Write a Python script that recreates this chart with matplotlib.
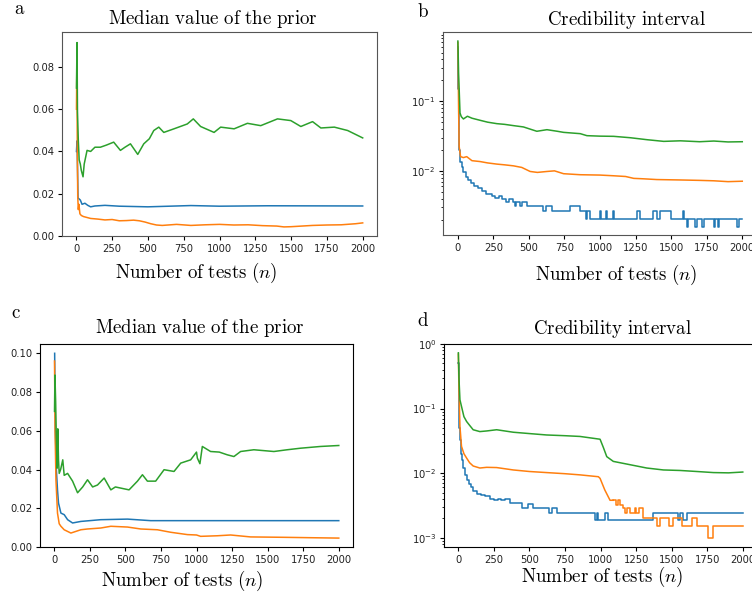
import numpy as np
import matplotlib
matplotlib.use('Agg')
import matplotlib.pyplot as plt

plt.rcParams['mathtext.fontset'] = 'cm'
plt.rcParams['font.size'] = 7.2
plt.rcParams['xtick.major.size'] = 3
plt.rcParams['ytick.major.size'] = 3
plt.rcParams['ytick.minor.size'] = 1.8
plt.rcParams['axes.linewidth'] = 0.8

# panel a - median value of the prior
a_blue_x = [1, 5, 9, 12, 20, 28, 40, 60, 80, 100, 130, 200, 300, 500, 700, 800, 1000, 1335, 2000]
a_blue_y = [0.040, 0.045, 0.030, 0.018, 0.0175, 0.0170, 0.0150, 0.0155, 0.0145, 0.0138, 0.0142,
            0.0145, 0.0141, 0.0138, 0.0142, 0.0144, 0.0141, 0.0143, 0.0142]
a_orange_x = [1, 4, 7, 10, 14, 18, 25, 35, 50, 100, 150, 200, 250, 300, 350, 400, 440, 480, 520,
              560, 600, 700, 800, 900, 1000, 1100, 1200, 1300, 1400, 1450, 1500, 1550, 1650, 1750,
              1850, 1950, 2000]
a_orange_y = [0.060, 0.083, 0.040, 0.0185, 0.0125, 0.0150, 0.0105, 0.0097, 0.0092, 0.0083, 0.0080,
              0.0076, 0.0078, 0.0072, 0.0073, 0.0075, 0.0072, 0.0066, 0.0058, 0.0052, 0.0050, 0.0055,
              0.0050, 0.0053, 0.0055, 0.0052, 0.0053, 0.0049, 0.0047, 0.0043, 0.0044, 0.0046, 0.0050,
              0.0052, 0.0053, 0.0058, 0.0062]
a_green_x = [1, 5, 8, 14, 20, 28, 35, 47, 55, 75, 100, 130, 168, 210, 261, 308, 340, 378, 429, 471,
             510, 541, 576, 611, 682, 775, 817, 868, 962, 1008, 1102, 1195, 1288, 1405, 1498, 1568,
             1650, 1708, 1802, 1895, 2000]
a_green_y = [0.070, 0.0915, 0.059, 0.045, 0.036, 0.034, 0.031, 0.028, 0.034, 0.0405, 0.040, 0.042,
             0.042, 0.043, 0.0444, 0.0405, 0.042, 0.0436, 0.0386, 0.0436, 0.046, 0.0499, 0.0515,
             0.049, 0.0507, 0.053, 0.0554, 0.0518, 0.049, 0.0515, 0.0507, 0.0533, 0.0522, 0.0554,
             0.0546, 0.0518, 0.0541, 0.0511, 0.0515, 0.0499, 0.0464]

# panel b - credibility interval (log)
b_blue_x = [0, 3, 6, 10, 18, 28, 40, 55, 70, 90, 115, 140, 170, 200, 240, 260, 290, 310, 340, 360,
            385, 400, 410, 440, 450, 485, 600, 620, 660, 790, 860, 900, 910, 930, 1000, 1010, 1040,
            1050, 1090, 1100, 1260, 1280, 1370, 1400, 1420, 1500, 1580, 1590, 1608, 1620, 1671,
            1680, 1718, 1728, 1800, 1810, 1828, 1838, 1964, 1974, 2000]
b_blue_y = [0.6, 0.15, 0.05, 0.02, 0.0135, 0.0112, 0.0095, 0.0082, 0.0075, 0.0066, 0.006, 0.0056,
            0.0051, 0.0047, 0.0044, 0.0041, 0.0044, 0.0039, 0.0036, 0.0039, 0.0036, 0.0031, 0.0036,
            0.0031, 0.0036, 0.0031, 0.00265, 0.0031, 0.00265, 0.0031, 0.00265, 0.00207, 0.00265,
            0.00207, 0.00265, 0.00207, 0.00265, 0.00207, 0.00265, 0.00207, 0.00265, 0.00207,
            0.00265, 0.00207, 0.00265, 0.00207, 0.00265, 0.00207, 0.00157, 0.00207, 0.00157,
            0.00207, 0.00157, 0.00207, 0.00157, 0.00207, 0.00157, 0.00207, 0.00157, 0.00207, 0.00207]
b_orange_x = [1, 3, 6, 10, 20, 40, 63, 100, 157, 210, 275, 330, 392, 450, 509, 560, 627, 680, 744,
              861, 1000, 1096, 1180, 1237, 1300, 1400, 1565, 1700, 1800, 1900, 2000]
b_orange_y = [0.70, 0.35, 0.08, 0.0224, 0.016, 0.0155, 0.016, 0.014, 0.0136, 0.013, 0.0125, 0.0122,
              0.0118, 0.0112, 0.0098, 0.0095, 0.0098, 0.0100, 0.0091, 0.0088, 0.0087, 0.0085,
              0.0083, 0.0078, 0.0077, 0.0075, 0.0074, 0.0073, 0.0072, 0.0070, 0.0071]
b_green_x = [1, 3, 6, 10, 16, 25, 40, 68, 100, 157, 210, 275, 330, 392, 462, 556, 627, 700, 744,
             861, 908, 1000, 1096, 1213, 1331, 1448, 1565, 1700, 1800, 1900, 2000]
b_green_y = [0.73, 0.50, 0.25, 0.15, 0.068, 0.060, 0.0556, 0.0608, 0.057, 0.0532, 0.050, 0.0476,
             0.0465, 0.0446, 0.0427, 0.037, 0.039, 0.037, 0.0357, 0.0342, 0.032, 0.0315, 0.0313,
             0.0299, 0.028, 0.0265, 0.027, 0.0262, 0.0268, 0.026, 0.0262]

# panel c - median value of the prior
c_blue_x = [3, 8, 15, 23, 30, 47, 70, 94, 129, 187, 327, 515, 678, 1000, 2000]
c_blue_y = [0.100, 0.060, 0.040, 0.0295, 0.0227, 0.0175, 0.0167, 0.0141, 0.0124, 0.0132, 0.0141,
            0.0144, 0.0136, 0.0136, 0.0136]
c_orange_x = [2, 6, 12, 23, 35, 47, 70, 117, 187, 234, 327, 398, 515, 608, 725, 819, 936, 1000,
              1029, 1146, 1240, 1380, 1614, 1800, 2000]
c_orange_y = [0.096, 0.060, 0.0347, 0.0175, 0.0120, 0.0107, 0.0089, 0.0072, 0.0089, 0.0093, 0.0098,
              0.0107, 0.0103, 0.0093, 0.0089, 0.0076, 0.0064, 0.0062, 0.0055, 0.0058, 0.0062,
              0.0052, 0.0050, 0.0048, 0.0046]
c_green_x = [2, 5, 10, 15, 20, 25, 30, 35, 45, 60, 70, 94, 129, 164, 200, 234, 270, 304, 351, 398,
             430, 468, 526, 585, 620, 655, 713, 772, 842, 889, 959, 1000, 1006, 1024, 1041, 1099,
             1160, 1216, 1263, 1310, 1403, 1544, 1637, 1731, 1871, 2000]
c_green_y = [0.07, 0.0888, 0.075, 0.055, 0.0407, 0.061, 0.045, 0.038, 0.040, 0.045, 0.037, 0.038,
             0.034, 0.028, 0.031, 0.0347, 0.031, 0.032, 0.0356, 0.0295, 0.031, 0.0304, 0.0295,
             0.034, 0.0373, 0.034, 0.034, 0.0399, 0.039, 0.0433, 0.045, 0.049, 0.0459, 0.043,
             0.0519, 0.0493, 0.049, 0.0476, 0.0467, 0.0493, 0.0502, 0.0493, 0.0502, 0.051, 0.0519,
             0.0524]

# panel d - credibility interval (log)
d_blue_x = [0, 3, 6, 10, 18, 25, 35, 45, 59, 75, 90, 105, 130, 160, 190, 225, 250, 280, 300, 330,
            363, 446, 492, 528, 640, 660, 692, 960, 975, 985, 1032, 1055, 1372, 1548, 1560, 1580,
            1606, 2000]
d_blue_y = [0.5, 0.12, 0.05, 0.033, 0.02, 0.016, 0.012, 0.0095, 0.0078, 0.0068, 0.006, 0.0052,
            0.0048, 0.0046, 0.0044, 0.0040, 0.0038, 0.0040, 0.0038, 0.0040, 0.0035, 0.0029, 0.0033,
            0.0029, 0.0024, 0.0029, 0.0024, 0.0019, 0.0024, 0.0019, 0.0024, 0.0019, 0.0024, 0.0019,
            0.0024, 0.0019, 0.0024, 0.0024]
d_orange_x = [1, 5, 12, 23, 40, 59, 80, 105, 152, 200, 270, 387, 500, 621, 750, 856, 985, 997,
              1030, 1067, 1090]
d_orange_y = [0.70, 0.20, 0.053, 0.026, 0.020, 0.0171, 0.0145, 0.0129, 0.0120, 0.0123, 0.0122,
              0.0112, 0.0106, 0.0102, 0.0098, 0.0094, 0.0088, 0.0083, 0.0055, 0.0038, 0.0038]
d_orange_step_x = [1090, 1110, 1120, 1140, 1160, 1175, 1185, 1205, 1240, 1250, 1270, 1300, 1395,
                   1419, 1484, 1512, 1571, 1641, 1677, 1759, 1794, 2000]
d_orange_step_y = [0.0038, 0.0032, 0.0038, 0.0032, 0.0029, 0.0024, 0.0029, 0.0024, 0.0029, 0.0024,
                   0.0029, 0.002, 0.0015, 0.002, 0.0015, 0.002, 0.0015, 0.002, 0.0015, 0.001,
                   0.0015, 0.0015]
d_green_x = [1, 5, 12, 23, 40, 59, 80, 105, 152, 200, 270, 387, 500, 621, 750, 856, 997, 1020, 1044,
             1090, 1208, 1325, 1442, 1559, 1677, 1794, 1900, 2000]
d_green_y = [0.73, 0.30, 0.137, 0.108, 0.075, 0.063, 0.055, 0.047, 0.044, 0.045, 0.047, 0.043,
             0.041, 0.039, 0.038, 0.037, 0.0335, 0.025, 0.018, 0.0152, 0.0135, 0.012, 0.0112,
             0.011, 0.0106, 0.0102, 0.0101, 0.0104]

W, H = 752, 602
fig = plt.figure(figsize=(W / 100, H / 100), dpi=100)


def box(l, t, w, h):
    return [l / W, 1 - (t + h) / H, w / W, h / H]


ax_a = fig.add_axes(box(62, 32, 315, 204))
ax_b = fig.add_axes(box(443.5, 32, 313, 203))
ax_c = fig.add_axes(box(40, 344, 313, 203))
ax_d = fig.add_axes(box(444, 344, 313, 203))

lw = 1.1
ax_a.plot(a_blue_x, a_blue_y, color='C0', lw=lw)
ax_a.plot(a_orange_x, a_orange_y, color='C1', lw=lw)
ax_a.plot(a_green_x, a_green_y, color='C2', lw=lw)
ax_a.set_ylim(0, 0.0965)
ax_a.set_yticks([0, 0.02, 0.04, 0.06, 0.08])

ax_b.plot(b_blue_x, b_blue_y, color='C0', lw=lw, drawstyle='steps-post')
ax_b.plot(b_orange_x, b_orange_y, color='C1', lw=lw)
ax_b.plot(b_green_x, b_green_y, color='C2', lw=lw)
ax_b.set_yscale('log')
ax_b.set_ylim(0.0012, 0.985)

ax_c.plot(c_blue_x, c_blue_y, color='C0', lw=lw)
ax_c.plot(c_orange_x, c_orange_y, color='C1', lw=lw)
ax_c.plot(c_green_x, c_green_y, color='C2', lw=lw)
ax_c.set_ylim(0, 0.1048)

ax_d.plot(d_blue_x, d_blue_y, color='C0', lw=lw, drawstyle='steps-post')
ax_d.plot(d_orange_x, d_orange_y, color='C1', lw=lw)
ax_d.plot(d_orange_step_x, d_orange_step_y, color='C1', lw=lw, drawstyle='steps-post')
ax_d.plot(d_green_x, d_green_y, color='C2', lw=lw)
ax_d.set_yscale('log')
ax_d.set_ylim(10 ** -3.144, 1.0)

for ax in (ax_a, ax_b, ax_c, ax_d):
    ax.set_xlim(-100, 2100)
    ax.set_xticks([0, 250, 500, 750, 1000, 1250, 1500, 1750, 2000])
    ax.tick_params(labelsize=7.2, pad=2.5, labelcolor='#222222')
for ax in (ax_a, ax_b):
    for s in ax.spines.values():
        s.set_color('#555555')

# titles, axis labels and panel letters in computer modern
def ftext(x, y, s, size=13.6):
    fig.text(x / W, 1 - y / H, s, ha='center', va='baseline', fontsize=size)


ttl_med = r'$\mathrm{Median\ value\ of\ the\ prior}$'
ttl_cred = r'$\mathrm{Credibility\ interval}$'
xlab = r'$\mathrm{Number\ of\ tests}\ (n)$'

ftext(213, 24, ttl_med)
ftext(626.6, 25, ttl_cred)
ftext(199.5, 333, ttl_med)
ftext(613, 334, ttl_cred)

ftext(196.5, 278, xlab)
ftext(616.5, 280, xlab)
ftext(182.5, 586, xlab)
ftext(602, 582, xlab)

ftext(20, 14, r'$\mathrm{a}$')
ftext(423, 17, r'$\mathrm{b}$')
ftext(16, 318, r'$\mathrm{c}$')
ftext(423, 326, r'$\mathrm{d}$')

fig.savefig('out.png', dpi=100)
